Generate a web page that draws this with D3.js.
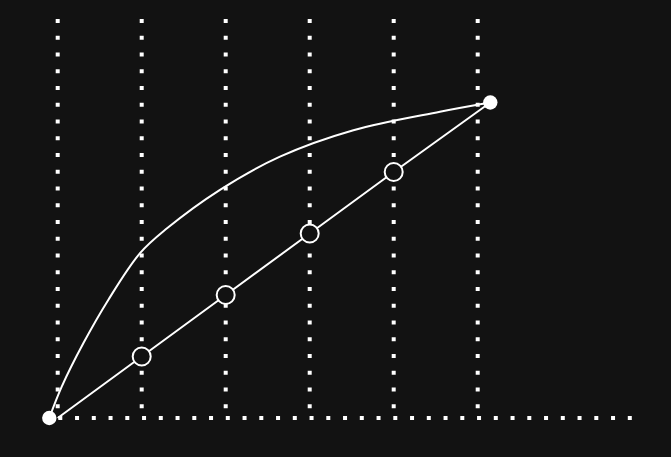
<!DOCTYPE html>
<html>
<head>
<meta charset="utf-8">
<script src="https://cdn.jsdelivr.net/npm/d3@7"></script>
<style>
  html, body { margin: 0; padding: 0; background: #121212; }
  svg { display: block; }
</style>
</head>
<body>
<div id="chart"></div>
<script>
// 크기 설정
const width = 671;
const height = 457;

// 데이터
const gridTicks = [0, 1, 2, 3, 4, 5];
const linearX = [0, 1, 2, 3, 4, 5.15];
const linearY = [0, 1, 2, 3, 4, 5.13];
const hollowIdx = [1, 2, 3, 4];
const curveX = [-0.1, 0.048, 0.305, 0.602, 0.98, 1.298, 1.932, 2.646, 3.52, 4.55, 5.15];
const curveY = [0, 0.51, 1.215, 1.92, 2.68, 3.08, 3.71, 4.25, 4.68, 4.98, 5.13];

// 스케일
const x = d3.scaleLinear().domain([0, 5]).range([57.7, 477.7]);
const y = d3.scaleLinear().domain([0, 5]).range([418, 110.5]);

const svg = d3.select("#chart")
    .append("svg")
    .attr("width", width)
    .attr("height", height);

svg.append("rect")
    .attr("width", width)
    .attr("height", height)
    .attr("fill", "#121212");

// 세로 점선
svg.selectAll(".vgrid")
    .data(gridTicks)
    .enter()
    .append("line")
    .attr("class", "vgrid")
    .attr("x1", d => x(d))
    .attr("x2", d => x(d))
    .attr("y1", 19)
    .attr("y2", y(0))
    .attr("stroke", "#fff")
    .attr("stroke-width", 4)
    .attr("stroke-dasharray", "4 12.75");

// 가로 점선
svg.append("line")
    .attr("x1", x(0) + 0.6)
    .attr("x2", width - 36)
    .attr("y1", y(0))
    .attr("y2", y(0))
    .attr("stroke", "#fff")
    .attr("stroke-width", 4)
    .attr("stroke-dasharray", "4 12.75");

// 곡선
const curvePts = curveX.map((v, i) => [v, curveY[i]]);
svg.append("path")
    .datum(curvePts)
    .attr("fill", "none")
    .attr("stroke", "#fff")
    .attr("stroke-width", 2)
    .attr("d", d3.line()
        .x(d => x(d[0]))
        .y(d => y(d[1]))
        .curve(d3.curveCatmullRom.alpha(0.5)));

// 직선
const linePts = linearX.map((v, i) => [v, linearY[i]]);
svg.append("path")
    .datum(linePts)
    .attr("fill", "none")
    .attr("stroke", "#fff")
    .attr("stroke-width", 2)
    .attr("d", d3.line()
        .x(d => x(d[0]))
        .y(d => y(d[1])));

// 빈 원
svg.selectAll(".hollow")
    .data(hollowIdx)
    .enter()
    .append("circle")
    .attr("class", "hollow")
    .attr("cx", i => x(linearX[i]))
    .attr("cy", i => y(linearY[i]))
    .attr("r", 9)
    .attr("fill", "#121212")
    .attr("stroke", "#fff")
    .attr("stroke-width", 2);

// 끝점
const ends = [curvePts[0], curvePts[curvePts.length - 1]];
svg.selectAll(".end")
    .data(ends)
    .enter()
    .append("circle")
    .attr("class", "end")
    .attr("cx", d => x(d[0]))
    .attr("cy", d => y(d[1]))
    .attr("r", 7.2)
    .attr("fill", "#fff");
</script>
</body>
</html>
